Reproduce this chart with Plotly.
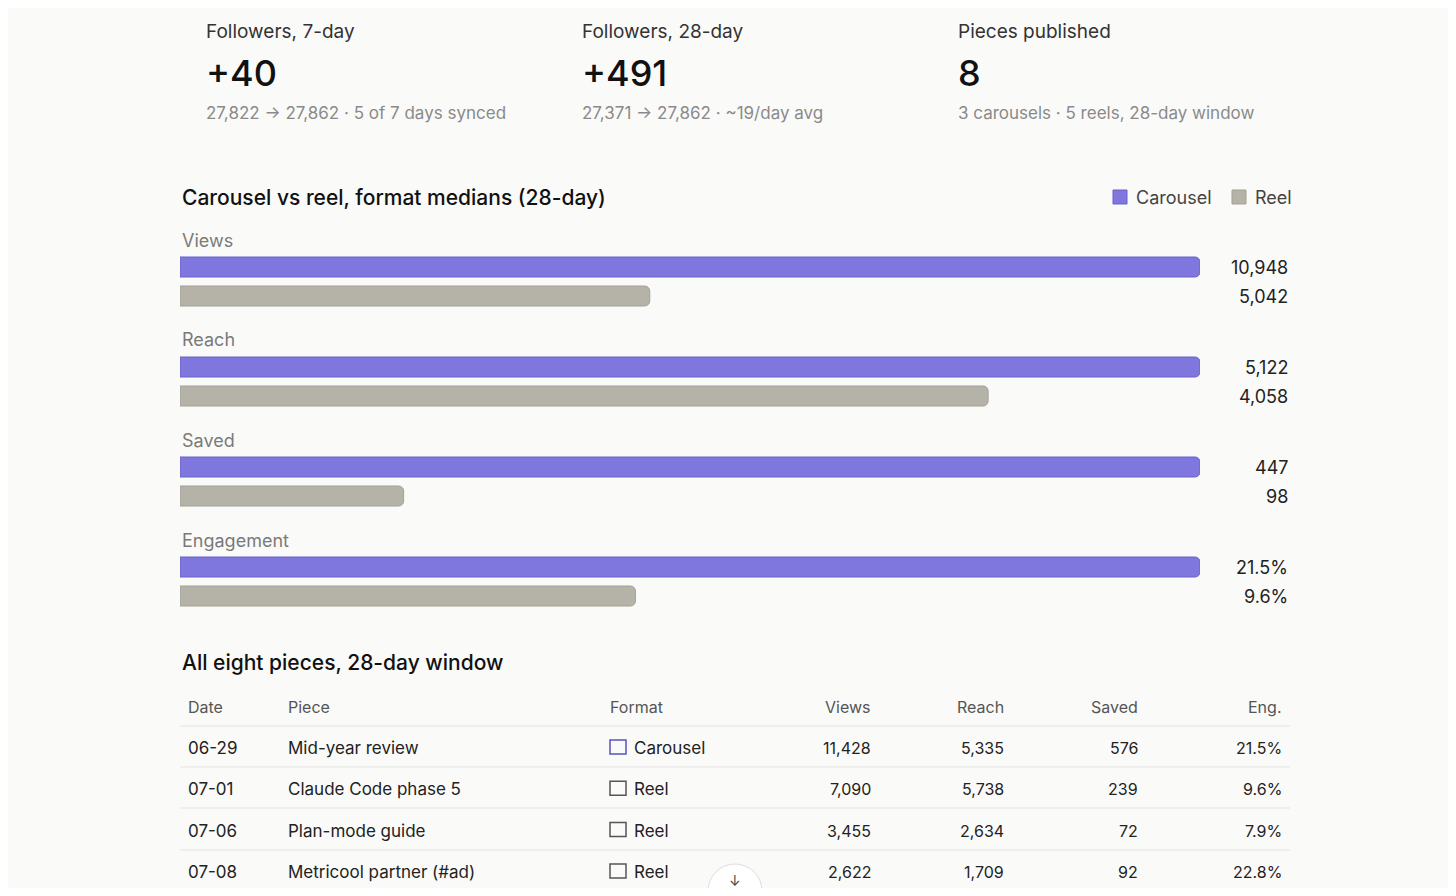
import plotly.graph_objects as go

W, H = 1440, 880
OFF = 8
metrics = ["Views", "Reach", "Saved", "Engagement"]
carousel = [10948, 5122, 447, 21.5]
reel = [5042, 4058, 98, 9.6]
carousel_txt = ["10,948", "5,122", "447", "21.5%"]
reel_txt = ["5,042", "4,058", "98", "9.6%"]

stat_titles = ["Followers, 7-day", "Followers, 28-day", "Pieces published"]
stat_values = ["+40", "+491", "8"]
stat_subs = ["27,822 → 27,862 · 5 of 7 days synced", "27,371 → 27,862 · ~19/day avg",
             "3 carousels · 5 reels, 28-day window"]

tbl_headers = ["Date", "Piece", "Format", "Views", "Reach", "Saved", "Eng."]
dates = ["06-29", "07-01", "07-06", "07-08"]
pieces = ["Mid-year review", "Claude Code phase 5", "Plan-mode guide", "Metricool partner (#ad)"]
formats = ["Carousel", "Reel", "Reel", "Reel"]
views = ["11,428", "7,090", "3,455", "2,622"]
reach = ["5,335", "5,738", "2,634", "1,709"]
saved = ["576", "239", "72", "92"]
eng = ["21.5%", "9.6%", "7.9%", "22.8%"]

C_CAR = "#7f77dd"
C_REEL = "#b5b2a8"
FONT = "Inter"

# reference pixel -> paper coords (page has an 8px body margin)
def px(x): return (x - OFF) / W
def py(y): return 1 - (y - OFF) / H

fig = go.Figure()
yc = [i * 100 for i in range(len(metrics))]
yr = [i * 100 + 29 for i in range(len(metrics))]
fig.add_trace(go.Bar(y=yc, x=[1.0] * len(carousel), orientation="h", width=20,
                     marker=dict(color=C_CAR, line=dict(color="#6a62c9", width=1)),
                     hoverinfo="skip", name="Carousel"))
fig.add_trace(go.Bar(y=yr, x=[r / c for r, c in zip(reel, carousel)], orientation="h", width=20,
                     marker=dict(color=C_REEL, line=dict(color="#a3a096", width=1)),
                     hoverinfo="skip", name="Reel"))

ann = []
def T(x, y, s, size=17, color="#222", anchor="left", weight=None):
    ann.append(dict(x=px(x), y=py(y), xref="paper", yref="paper", text=s, showarrow=False,
                    xanchor=anchor, yanchor="middle",
                    font=dict(family=FONT, size=size, color=color, weight=weight)))

for i, x in enumerate([204, 580, 956]):
    T(x, 32, stat_titles[i], 19, "#333")
    T(x, 73, stat_values[i], 36, "#111", weight=500)
    T(x, 113, stat_subs[i], 17, "#8a8a8a")

T(180, 197, "Carousel vs reel, format medians (28-day)", 21, "#111", weight=500)
T(1134, 197, "Carousel", 18, "#444")
T(1253, 197, "Reel", 18, "#444")
for i, m in enumerate(metrics):
    T(180, 240 + 100 * i, m, 18, "#7a7a7a")
    T(1290, 267 + 100 * i, carousel_txt[i], 18, "#222", "right")
    T(1290, 296 + 100 * i, reel_txt[i], 18, "#222", "right")

T(180, 662, "All eight pieces, 28-day window", 21, "#111", weight=500)
cols_x = [186, 286, 608, 873, 1006, 1140, 1284]
anchors = ["left", "left", "left", "right", "right", "right", "right"]
for j, h in enumerate(tbl_headers):
    T(cols_x[j], 707, h, 16, "#555", anchors[j])
rows = list(zip(dates, pieces, formats, views, reach, saved, eng))
shapes = []
for i, row in enumerate(rows):
    y = 748 + 41.3 * i
    for j, v in enumerate(row):
        if j == 2:
            T(632, y, v, 17, "#222")
            col = "#5a52c0" if v == "Carousel" else "#555"
            shapes.append(dict(type="rect", xref="paper", yref="paper", x0=px(610), x1=px(626),
                               y0=py(y + 6), y1=py(y - 8), line=dict(color=col, width=1.5)))
        else:
            T(cols_x[j], y, v, 17 if j < 2 else 16, "#222", anchors[j])
for y in [726, 767, 808, 850, 892]:
    shapes.append(dict(type="line", xref="paper", yref="paper", x0=px(180), x1=px(1290),
                       y0=py(y), y1=py(y), line=dict(color="#e4e4e2", width=1)))
shapes.append(dict(type="rect", xref="paper", yref="paper", x0=px(1113), x1=px(1127),
                   y0=py(204), y1=py(190), fillcolor=C_CAR, line=dict(color="#6a62c9", width=1)))
shapes.append(dict(type="rect", xref="paper", yref="paper", x0=px(1232), x1=px(1246),
                   y0=py(204), y1=py(190), fillcolor=C_REEL, line=dict(color="#a3a096", width=1)))
shapes.append(dict(type="circle", xref="paper", yref="paper", x0=px(708), x1=px(762),
                   y0=py(918), y1=py(864), fillcolor="white", line=dict(color="#ddd", width=1)))
T(735, 880, "↓", 14, "#444", "center")

fig.update_layout(
    width=W, height=H, margin=dict(l=0, r=0, t=0, b=0),
    paper_bgcolor="#fafaf9", plot_bgcolor="#fafaf9", showlegend=False,
    barmode="overlay", barcornerradius=5,
    xaxis=dict(domain=[px(180), px(1200)], range=[0, 1], visible=False, fixedrange=True),
    yaxis=dict(domain=[py(607), py(256)], range=[340, -11], visible=False, fixedrange=True),
    annotations=ann, shapes=shapes,
)
fig.write_html("out.html")
